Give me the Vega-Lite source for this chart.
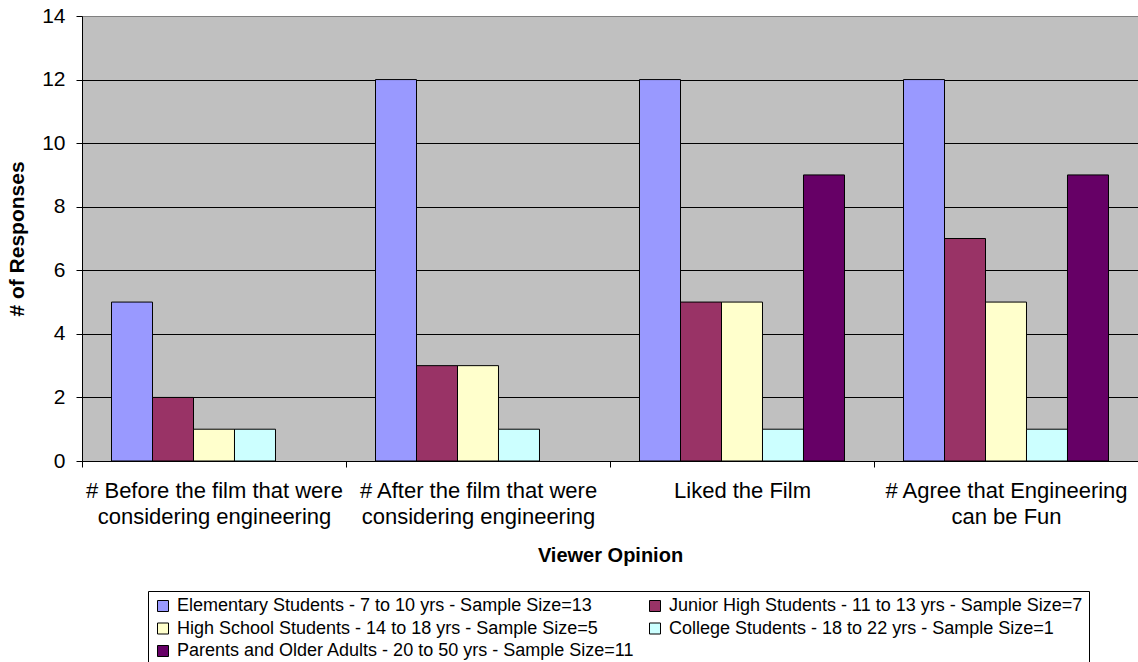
{
  "$schema": "https://vega.github.io/schema/vega-lite/v6.json",
  "width": 1056,
  "height": 445,
  "autosize": {"type": "none"},
  "padding": {"left": 82, "top": 16, "right": 0, "bottom": 201},
  "background": "white",
  "config": {
    "font": "Liberation Sans",
    "view": {"fill": "#C0C0C0", "stroke": "#808080", "strokeWidth": 1}
  },
  "data": {
    "values": [
      {"opinion": "# Before the film that were considering engineering", "group": "Elementary Students - 7 to 10 yrs - Sample Size=13", "responses": 5},
      {"opinion": "# Before the film that were considering engineering", "group": "Junior High Students - 11 to 13 yrs - Sample Size=7", "responses": 2},
      {"opinion": "# Before the film that were considering engineering", "group": "High School Students - 14 to 18  yrs - Sample Size=5", "responses": 1},
      {"opinion": "# Before the film that were considering engineering", "group": "College Students - 18 to 22 yrs - Sample Size=1", "responses": 1},
      {"opinion": "# After the film that were considering engineering", "group": "Elementary Students - 7 to 10 yrs - Sample Size=13", "responses": 12},
      {"opinion": "# After the film that were considering engineering", "group": "Junior High Students - 11 to 13 yrs - Sample Size=7", "responses": 3},
      {"opinion": "# After the film that were considering engineering", "group": "High School Students - 14 to 18  yrs - Sample Size=5", "responses": 3},
      {"opinion": "# After the film that were considering engineering", "group": "College Students - 18 to 22 yrs - Sample Size=1", "responses": 1},
      {"opinion": "Liked the Film", "group": "Elementary Students - 7 to 10 yrs - Sample Size=13", "responses": 12},
      {"opinion": "Liked the Film", "group": "Junior High Students - 11 to 13 yrs - Sample Size=7", "responses": 5},
      {"opinion": "Liked the Film", "group": "High School Students - 14 to 18  yrs - Sample Size=5", "responses": 5},
      {"opinion": "Liked the Film", "group": "College Students - 18 to 22 yrs - Sample Size=1", "responses": 1},
      {"opinion": "Liked the Film", "group": "Parents and Older Adults - 20 to 50 yrs - Sample Size=11", "responses": 9},
      {"opinion": "# Agree that Engineering can be Fun", "group": "Elementary Students - 7 to 10 yrs - Sample Size=13", "responses": 12},
      {"opinion": "# Agree that Engineering can be Fun", "group": "Junior High Students - 11 to 13 yrs - Sample Size=7", "responses": 7},
      {"opinion": "# Agree that Engineering can be Fun", "group": "High School Students - 14 to 18  yrs - Sample Size=5", "responses": 5},
      {"opinion": "# Agree that Engineering can be Fun", "group": "College Students - 18 to 22 yrs - Sample Size=1", "responses": 1},
      {"opinion": "# Agree that Engineering can be Fun", "group": "Parents and Older Adults - 20 to 50 yrs - Sample Size=11", "responses": 9}
    ]
  },
  "mark": {"type": "bar", "stroke": "black", "strokeWidth": 1},
  "encoding": {
    "x": {
      "field": "opinion",
      "type": "nominal",
      "sort": [
        "# Before the film that were considering engineering",
        "# After the film that were considering engineering",
        "Liked the Film",
        "# Agree that Engineering can be Fun"
      ],
      "scale": {"paddingInner": 0, "paddingOuter": 0},
      "title": "Viewer Opinion",
      "axis": {
        "labelAngle": 0,
        "labelFontSize": 22,
        "labelLineHeight": 26,
        "labelLimit": 500,
        "labelOverlap": false,
        "labelColor": "black",
        "labelPadding": 13,
        "labelExpr": "datum.value == '# Before the film that were considering engineering' ? ['# Before the film that were', 'considering engineering'] : datum.value == '# After the film that were considering engineering' ? ['# After the film that were', 'considering engineering'] : datum.value == '# Agree that Engineering can be Fun' ? ['# Agree that Engineering', 'can be Fun'] : datum.value",
        "tickBand": "extent",
        "tickSize": 6,
        "tickColor": "black",
        "domainColor": "black",
        "titleFontSize": 20,
        "titleFontWeight": "bold",
        "titleColor": "black",
        "titlePadding": 18
      }
    },
    "xOffset": {
      "field": "group",
      "type": "nominal",
      "scale": {
        "domain": [
          "Elementary Students - 7 to 10 yrs - Sample Size=13",
          "Junior High Students - 11 to 13 yrs - Sample Size=7",
          "High School Students - 14 to 18  yrs - Sample Size=5",
          "College Students - 18 to 22 yrs - Sample Size=1",
          "Parents and Older Adults - 20 to 50 yrs - Sample Size=11"
        ],
        "paddingInner": 0,
        "paddingOuter": 0.72
      }
    },
    "y": {
      "field": "responses",
      "type": "quantitative",
      "scale": {"domain": [0, 14]},
      "title": "# of Responses",
      "axis": {
        "values": [0, 2, 4, 6, 8, 10, 12, 14],
        "labelFontSize": 21,
        "labelColor": "black",
        "labelPadding": 11,
        "tickSize": 6,
        "tickColor": "black",
        "domainColor": "black",
        "grid": true,
        "gridOpacity": 1,
        "gridColor": {"condition": {"test": "datum.value == 14", "value": "#808080"}, "value": "black"},
        "titleFontSize": 21,
        "titleFontWeight": "bold",
        "titleColor": "black",
        "titlePadding": 14
      }
    },
    "color": {
      "field": "group",
      "type": "nominal",
      "scale": {
        "domain": [
          "Elementary Students - 7 to 10 yrs - Sample Size=13",
          "High School Students - 14 to 18  yrs - Sample Size=5",
          "Parents and Older Adults - 20 to 50 yrs - Sample Size=11",
          "Junior High Students - 11 to 13 yrs - Sample Size=7",
          "College Students - 18 to 22 yrs - Sample Size=1"
        ],
        "range": ["#9999FF", "#FFFFCC", "#660066", "#993366", "#CCFFFF"]
      },
      "legend": {
        "orient": "none",
        "legendX": 66,
        "legendY": 575,
        "columns": 2,
        "title": null,
        "labelFontSize": 18,
        "labelColor": "black",
        "labelLimit": 700,
        "labelOffset": 5,
        "symbolType": "square",
        "symbolSize": 121,
        "symbolStrokeColor": "black",
        "symbolStrokeWidth": 1,
        "symbolOpacity": 1,
        "strokeColor": "black",
        "fillColor": "white",
        "padding": 6,
        "rowPadding": 4.5,
        "columnPadding": 11
      }
    }
  }
}
